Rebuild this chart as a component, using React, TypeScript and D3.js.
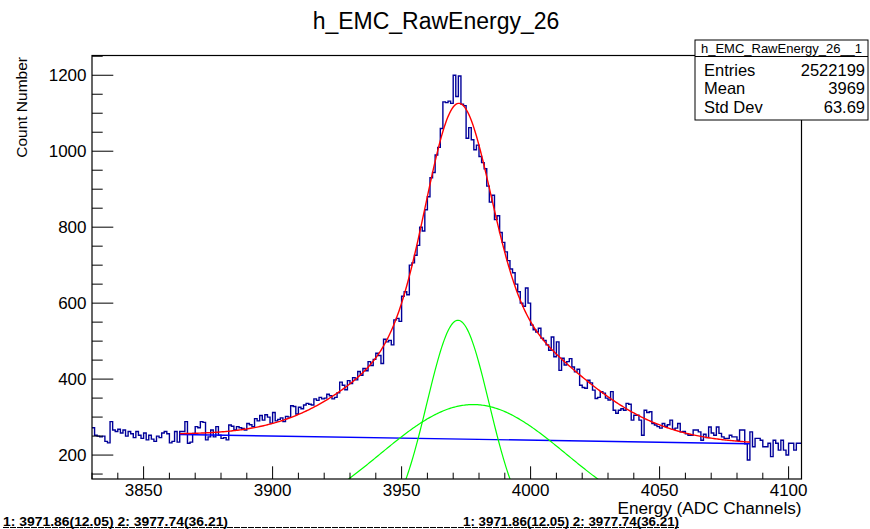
import React from "react";
import * as d3 from "d3";

// ---------- data ----------
const binStart = 3830;
const binWidth = 1;
const counts = [
  272, 252, 250, 248, 250, 236, 232, 288, 266, 262,
  268, 258, 266, 250, 262, 256, 246, 262, 252, 244,
  258, 240, 252, 242, 236, 250, 246, 258, 262, 256,
  232, 236, 262, 234, 262, 262, 288, 231, 234, 257,
  275, 272, 288, 286, 240, 248, 266, 248, 275, 252,
  244, 246, 240, 279, 276, 266, 275, 272, 270, 266,
  283, 280, 275, 296, 290, 304, 292, 306, 300, 284,
  312, 290, 294, 298, 288, 302, 300, 330, 328, 308,
  326, 322, 332, 336, 334, 332, 348, 344, 352, 348,
  350, 360, 356, 348, 352, 364, 392, 384, 372, 396,
  388, 404, 398, 420, 410, 428, 422, 446, 436, 452,
  468, 462, 441, 505, 498, 502, 490, 556, 560, 552,
  618, 630, 622, 700, 706, 726, 752, 800, 790, 846,
  880, 930, 944, 990, 1010, 1060, 1130, 1128, 1132, 1126,
  1200, 1144, 1198, 1124, 1120, 1034, 1062, 1030, 1004, 1016,
  986, 970, 954, 908, 866, 884, 820, 830, 786, 760,
  735, 712, 690, 680, 650, 630, 600, 592, 640, 600,
  542, 530, 524, 534, 508, 502, 490, 476, 511, 459,
  498, 423, 455, 437, 446, 454, 432, 419, 426, 384,
  378, 376, 397, 390, 371, 349, 352, 367, 363, 350,
  345, 367, 318, 310, 318, 322, 318, 336, 334, 292,
  305, 305, 292, 252, 318, 312, 314, 283, 279, 275,
  271, 283, 276, 280, 292, 268, 271, 283, 261, 262,
  256, 252, 252, 266, 266, 261, 239, 255, 246, 274,
  258, 252, 274, 257, 248, 244, 244, 252, 248, 248,
  239, 266, 266, 230, 187, 261, 222, 244, 244, 239,
  222, 222, 231, 196, 239, 231, 213, 239, 213, 200,
  231, 231, 213, 231, 231,
];
const xDomain = [3830, 4105];
const yDomain = [137, 1252];
const xMajorTicks = [3850, 3900, 3950, 4000, 4050, 4100];
const yMajorTicks = [200, 400, 600, 800, 1000, 1200];
const gaussAmp = [555, 333];
const gaussMean = [3971.86, 3977.74];
const gaussSigma = [12.05, 36.21];
const bgEnds = [254, 230];
const fitRange = [3864, 4085];
const statsLabels = ["Entries", "Mean", "Std Dev"];
const statsValues = ["2522199", "3969", "63.69"];
const titleText = "h_EMC_RawEnergy_26";
const statsTitle = "h_EMC_RawEnergy_26__1";
const xTitle = "Energy (ADC Channels)";
const yTitle = "Count Number";
const footText = "1:  3971.86(12.05)    2:  3977.74(36.21)";

// ---------- layout ----------
const W = 870;
const H = 529;
const X0 = 92;
const X1 = 801.5;
const Y0 = 55.5;
const Y1 = 479;
const FONT = "'Liberation Sans', Arial, Helvetica, sans-serif";

export default function App() {
  const x = d3.scaleLinear().domain(xDomain).range([X0, X1]);
  const y = d3.scaleLinear().domain(yDomain).range([Y1, Y0]);

  const histPts: [number, number][] = counts.map((c, i) => [x(binStart + i * binWidth), y(c)]);
  histPts.push([x(binStart + counts.length * binWidth), y(counts[counts.length - 1])]);
  const histPath = d3.line().curve(d3.curveStepAfter)(histPts) || "";

  const bg = (v: number) =>
    bgEnds[0] + ((bgEnds[1] - bgEnds[0]) * (v - fitRange[0])) / (fitRange[1] - fitRange[0]);
  const gauss = (k: number, v: number) =>
    gaussAmp[k] * Math.exp(-0.5 * Math.pow((v - gaussMean[k]) / gaussSigma[k], 2));
  const samples = d3.range(fitRange[0], fitRange[1] + 0.001, 0.5);
  const line = d3.line<number>().x((v) => x(v));
  const redPath = line.y((v) => y(bg(v) + gauss(0, v) + gauss(1, v)))(samples) || "";
  const g1Path = line.y((v) => y(gauss(0, v)))(samples) || "";
  const g2Path = line.y((v) => y(gauss(1, v)))(samples) || "";
  const bgPath = line.y((v) => y(bg(v)))([fitRange[0], fitRange[1]]) || "";

  const xMinor = d3.range(xDomain[0], xDomain[1] + 0.01, 10).filter((t) => !xMajorTicks.includes(t));
  const yMinor = d3.range(150, yDomain[1], 50).filter((t) => !yMajorTicks.includes(t));

  return (
    <svg
      width={W}
      height={H}
      viewBox={`0 0 ${W} ${H}`}
      style={{ position: "absolute", left: 0, top: 0, background: "#fff" }}
      fontFamily={FONT}
    >
      <defs>
        <clipPath id="frameClip">
          <rect x={X0} y={Y0} width={X1 - X0} height={Y1 - Y0} />
        </clipPath>
      </defs>
      <rect x={0} y={0} width={W} height={H} fill="#fff" />

      {/* title */}
      <text x={436} y={28.5} textAnchor="middle" fontSize={23} fill="#000">
        {titleText}
      </text>

      {/* data */}
      <g clipPath="url(#frameClip)">
        <path d={histPath} fill="none" stroke="#000099" strokeWidth={1.4} />
        <path d={bgPath} fill="none" stroke="#0000ff" strokeWidth={1.4} />
        <path d={g1Path} fill="none" stroke="#00ff00" strokeWidth={1.2} />
        <path d={g2Path} fill="none" stroke="#00ff00" strokeWidth={1.2} />
        <path d={redPath} fill="none" stroke="#ff0000" strokeWidth={1.4} />
      </g>

      {/* frame */}
      <rect x={X0} y={Y0} width={X1 - X0} height={Y1 - Y0} fill="none" stroke="#000" strokeWidth={1.2} />

      {/* x ticks */}
      {xMajorTicks.map((t) => (
        <g key={"xm" + t}>
          <line x1={x(t)} x2={x(t)} y1={Y1} y2={Y1 - 12.7} stroke="#000" strokeWidth={1} />
          <text x={x(t)} y={495.5} textAnchor="middle" fontSize={17} fill="#000">
            {t}
          </text>
        </g>
      ))}
      {xMinor.map((t) => (
        <line key={"xn" + t} x1={x(t)} x2={x(t)} y1={Y1} y2={Y1 - 6.3} stroke="#000" strokeWidth={1} />
      ))}

      {/* y ticks */}
      {yMajorTicks.map((t) => (
        <g key={"ym" + t}>
          <line x1={X0} x2={X0 + 21.3} y1={y(t)} y2={y(t)} stroke="#000" strokeWidth={1} />
          <text x={86.5} y={y(t)} dy="0.36em" textAnchor="end" fontSize={17} fill="#000">
            {t}
          </text>
        </g>
      ))}
      {yMinor.map((t) => (
        <line key={"yn" + t} x1={X0} x2={X0 + 10.7} y1={y(t)} y2={y(t)} stroke="#000" strokeWidth={1} />
      ))}

      {/* axis titles */}
      <text
        x={801.5}
        y={514}
        textAnchor="end"
        fontSize={16}
        fill="#000"
        textLength={184}
        lengthAdjust="spacingAndGlyphs"
      >
        {xTitle}
      </text>
      <text transform={`translate(27,57) rotate(-90)`} textAnchor="end" fontSize={15.5} fill="#000">
        {yTitle}
      </text>

      {/* stats box */}
      <rect x={695} y={40} width={173} height={80} fill="#fff" stroke="#000" strokeWidth={1} />
      <line x1={695} x2={868} y1={56.5} y2={56.5} stroke="#000" strokeWidth={1} />
      <text x={781.5} y={52.5} textAnchor="middle" fontSize={13} fill="#000">
        {statsTitle}
      </text>
      {statsLabels.map((lab, i) => (
        <g key={lab}>
          <text x={704} y={76 + i * 18.3} fontSize={16.5} fill="#000">
            {lab}
          </text>
          <text x={865} y={76 + i * 18.3} textAnchor="end" fontSize={16.5} fill="#000">
            {statsValues[i]}
          </text>
        </g>
      ))}

      {/* footer fit summary */}
      <text x={3} y={525.5} fontSize={12} fontWeight="bold" fill="#000" textLength={225} lengthAdjust="spacingAndGlyphs">
        {footText}
      </text>
      <text x={463} y={525.5} fontSize={12} fontWeight="bold" fill="#000" textLength={216} lengthAdjust="spacingAndGlyphs">
        {footText}
      </text>
      <line x1={3} x2={679} y1={527.5} y2={527.5} stroke="#000" strokeWidth={1} strokeDasharray="6 1" />
    </svg>
  );
}
